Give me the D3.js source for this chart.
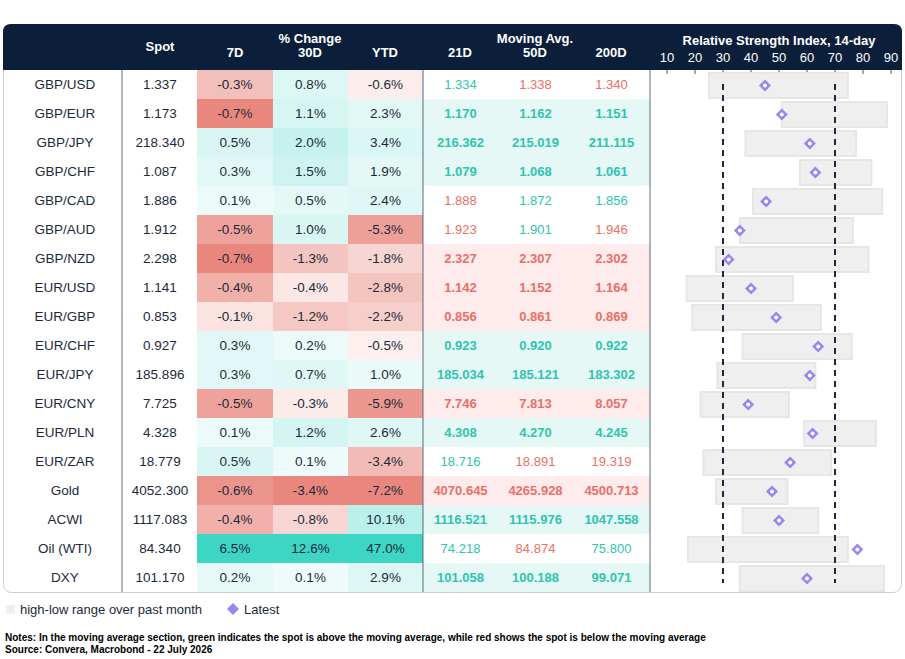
<!DOCTYPE html>
<html><head><meta charset="utf-8">
<script src="https://cdn.jsdelivr.net/npm/d3@7"></script>
<style>body{margin:0;background:#fff;font-family:"Liberation Sans",Arial,sans-serif}</style>
</head><body><svg id="c" width="905" height="659"></svg>
<script>
const names=["GBP/USD","GBP/EUR","GBP/JPY","GBP/CHF","GBP/CAD","GBP/AUD","GBP/NZD","EUR/USD","EUR/GBP","EUR/CHF","EUR/JPY","EUR/CNY","EUR/PLN","EUR/ZAR","Gold","ACWI","Oil (WTI)","DXY"];
const spot=["1.337","1.173","218.340","1.087","1.886","1.912","2.298","1.141","0.853","0.927","185.896","7.725","4.328","18.779","4052.300","1117.083","84.340","101.170"];
const chg7=[-0.3,-0.7,0.5,0.3,0.1,-0.5,-0.7,-0.4,-0.1,0.3,0.3,-0.5,0.1,0.5,-0.6,-0.4,6.5,0.2];
const chg30=[0.8,1.1,2.0,1.5,0.5,1.0,-1.3,-0.4,-1.2,0.2,0.7,-0.3,1.2,0.1,-3.4,-0.8,12.6,0.1];
const chgYTD=[-0.6,2.3,3.4,1.9,2.4,-5.3,-1.8,-2.8,-2.2,-0.5,1.0,-5.9,2.6,-3.4,-7.2,10.1,47.0,2.9];
const ma21=["1.334","1.170","216.362","1.079","1.888","1.923","2.327","1.142","0.856","0.923","185.034","7.746","4.308","18.716","4070.645","1116.521","74.218","101.058"];
const ma50=["1.338","1.162","215.019","1.068","1.872","1.901","2.307","1.152","0.861","0.920","185.121","7.813","4.270","18.891","4265.928","1115.976","84.874","100.188"];
const ma200=["1.340","1.151","211.115","1.061","1.856","1.946","2.302","1.164","0.869","0.922","183.302","8.057","4.245","19.319","4500.713","1047.558","75.800","99.071"];
const rsiLow=[25,51,38,57.5,40.7,36,27.5,17,19,37,28,22,59,23,27.5,37,17.5,36];
const rsiHigh=[74.6,88.6,77.5,83,86.8,76.4,82,55,65,76,63,53.6,84.6,68.6,53,64,74.6,87.5];
const rsiLatest=[45,51,61,63,45.4,36,32,40,49,64,61,39,62,54,47.5,50,78,60];
const rsiTicks=[10,20,30,40,50,60,70,80,90];

const svg=d3.select("#c");
const navy="#0b1f3a", green="#2ec4b0", red="#ea6f68";
const topY=70, rh=29, n=names.length;
const y=d3.scaleBand().domain(d3.range(n)).range([topY,topY+rh*n]);
const cols=[{x0:8,x1:122},{x0:122,x1:197},{x0:197,x1:273},{x0:273,x1:348},{x0:348,x1:423},{x0:423,x1:498},{x0:498,x1:573},{x0:573,x1:650}];
const rx=d3.scaleLinear().domain([10,90]).range([667,891]);

svg.append("rect").attr("x",3.5).attr("y",24.5).attr("width",898).attr("height",568).attr("rx",8).attr("fill","#fff").attr("stroke","#c9cdd3");
svg.append("path").attr("d","M3,70 L3,32 Q3,24 11,24 L894,24 Q902,24 902,32 L902,70 Z").attr("fill",navy);
const ht=(x,yy,t)=>svg.append("text").attr("x",x).attr("y",yy).attr("text-anchor","middle").attr("fill","#fff").attr("font-weight","bold").attr("font-size",13).text(t);
ht(160,51,"Spot");ht(235,57,"7D");ht(310,43,"% Change");ht(310,57,"30D");ht(385,57,"YTD");
ht(460,57,"21D");ht(535,43,"Moving Avg.");ht(535,57,"50D");ht(611,57,"200D");
ht(779,45,"Relative Strength Index, 14-day");
rsiTicks.forEach(t=>{svg.append("text").attr("x",rx(t)).attr("y",62).attr("text-anchor","middle").attr("fill","#fff").attr("font-size",13).text(t);});

function pctColor(vals){
  const mn=d3.min(vals), mx=d3.max(vals);
  const neg=d3.scaleLinear().domain([0,mn]).range(["#ffffff","#e9877e"]);
  const pos=d3.scaleLinear().domain([0,mx]).range(["#f4fcfb","#3dd6c4"]);
  return v=>v<0?neg(Math.pow(v/mn,0.75)*mn):pos(Math.pow(v/mx,0.75)*mx);
}
const pcs=[chg7,chg30,chgYTD];
pcs.forEach((arr,j)=>{
  const c=pctColor(arr), col=cols[2+j];
  arr.forEach((v,i)=>{
    svg.append("rect").attr("x",col.x0).attr("y",y(i)).attr("width",col.x1-col.x0).attr("height",rh).attr("fill",c(v));
    svg.append("text").attr("x",(col.x0+col.x1)/2).attr("y",y(i)+rh/2+4.5).attr("text-anchor","middle").attr("font-size",13.5).attr("fill","#1b2a3a").text(v.toFixed(1)+"%");
  });
});
names.forEach((nm,i)=>{
  const s=+spot[i], mas=[ma21[i],ma50[i],ma200[i]];
  const up=mas.map(m=>s>=+m);
  const all=up.every(d=>d)||up.every(d=>!d);
  if(all) svg.append("rect").attr("x",423).attr("y",y(i)).attr("width",227).attr("height",rh).attr("fill",up[0]?"#e6f8f6":"#fdeceb");
  mas.forEach((m,k)=>{const col=cols[5+k];
    svg.append("text").attr("x",(col.x0+col.x1)/2).attr("y",y(i)+rh/2+4.5).attr("text-anchor","middle").attr("font-size",13).attr("font-weight",all?"bold":"normal").attr("fill",up[k]?green:red).text(m);});
  svg.append("text").attr("x",65).attr("y",y(i)+rh/2+4.5).attr("text-anchor","middle").attr("font-size",13.5).attr("fill","#1b2a3a").text(nm);
  svg.append("text").attr("x",160).attr("y",y(i)+rh/2+4.5).attr("text-anchor","middle").attr("font-size",13.5).attr("fill","#1b2a3a").text(spot[i]);
});
[122,423,650].forEach(x=>svg.append("line").attr("x1",x).attr("x2",x).attr("y1",70).attr("y2",592).attr("stroke","#5b6b7e").attr("stroke-width",1));
rsiTicks.forEach(t=>svg.append("line").attr("x1",rx(t)).attr("x2",rx(t)).attr("y1",70).attr("y2",74).attr("stroke","#555"));
names.forEach((nm,i)=>{
  svg.append("rect").attr("x",rx(rsiLow[i])).attr("y",y(i)+3).attr("width",rx(rsiHigh[i])-rx(rsiLow[i])).attr("height",rh-4).attr("fill","#efefef").attr("stroke","#e6e6e6").attr("stroke-width",2);
});
[30,70].forEach(t=>svg.append("line").attr("x1",rx(t)).attr("x2",rx(t)).attr("y1",y(0)+14).attr("y2",y(n-1)+20).attr("stroke","#1b2a3a").attr("stroke-width",2).attr("stroke-dasharray","6,5"));
names.forEach((nm,i)=>{
  const cx=rx(rsiLatest[i]), cy=y(i)+rh/2+1;
  svg.append("path").attr("d",`M${cx},${cy-6}L${cx+6},${cy}L${cx},${cy+6}L${cx-6},${cy}Z`).attr("fill","#9a86f0");
  svg.append("circle").attr("cx",cx).attr("cy",cy).attr("r",2).attr("fill","#fff");
});
svg.append("rect").attr("x",6).attr("y",605).attr("width",9).attr("height",9).attr("fill","#efefef");
svg.append("text").attr("x",20).attr("y",614).attr("font-size",13).attr("fill","#1b2a3a").text("high-low range over past month");
svg.append("path").attr("d","M233,603L239,609L233,615L227,609Z").attr("fill","#9a86f0");
svg.append("text").attr("x",244).attr("y",614).attr("font-size",13).attr("fill","#1b2a3a").text("Latest");
svg.append("text").attr("x",5).attr("y",641).attr("font-size",10).attr("font-weight","bold").attr("fill","#000").text("Notes: In the moving average section, green indicates the spot is above the moving average, while red shows the spot is below the moving average");
svg.append("text").attr("x",5).attr("y",653).attr("font-size",10).attr("font-weight","bold").attr("fill","#000").text("Source: Convera, Macrobond - 22 July 2026");
</script></body></html>
